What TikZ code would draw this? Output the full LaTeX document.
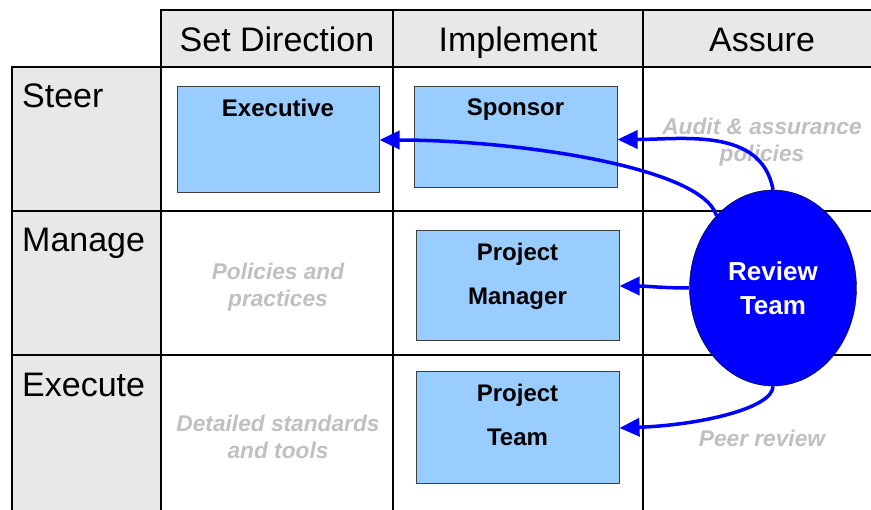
\documentclass[tikz,border=0pt]{standalone}
\usepackage{fontspec}
\setmainfont{Liberation Sans}
\usetikzlibrary{arrows.meta}
\usetikzlibrary{positioning}
\usetikzlibrary{shapes.geometric}
\definecolor{cell grey}{RGB}{232,232,232}
\definecolor{role blue}{RGB}{153,204,255}
\definecolor{review blue}{RGB}{0,0,255}
\definecolor{note grey}{RGB}{192,192,192}

\begin{document}
\begin{tikzpicture}[x=1pt, y=1pt,
					head cell/.style={draw, line width=2pt, fill=cell grey, minimum height=57pt, text height=27pt, text depth=0pt, font=\fontsize{34}{40}\selectfont},
					row label/.style={anchor=base west, inner sep=0pt, font=\fontsize{34}{40}\selectfont},
					grid line/.style={line width=2pt},
					role box/.style={draw=black!75, line width=1pt, fill=role blue},
					role label/.style={anchor=north, align=center, inner sep=0pt, yshift=-12.5pt, font=\bfseries\fontsize{24}{44}\selectfont},
					note/.style={align=center, text=note grey, font=\bfseries\itshape\fontsize{22.7}{27.5}\selectfont},
					review arrow/.style={draw=review blue, line width=3.5pt, -{Triangle[length=20pt,width=18pt]}},
				]
					\useasboundingbox (0,0) rectangle (871,-510);

					% column heads
					\node[head cell, minimum width=232pt] (setdir) at (277,-38.5) {Set Direction};
					\node[head cell, minimum width=250pt] (implement) at (518,-38.5) {Implement};
					\node[head cell, minimum width=238pt] (assure) at (762,-38.5) {Assure};

					% row heads
					\filldraw[grid line, fill=cell grey] (12,-67) rectangle (161,-211);
					\filldraw[grid line, fill=cell grey] (12,-211) rectangle (161,-355);
					\filldraw[grid line, fill=cell grey] (12,-355) rectangle (161,-525);
					\node[row label] (steer) at (22,-108) {Steer};
					\node[row label] (manage) at (22,-252) {Manage};
					\node[row label] (execute) at (22,-397) {Execute};

					% body grid
					\draw[grid line] (393,-67) -- (393,-525);
					\draw[grid line] (643,-67) -- (643,-525);
					\draw[grid line] (161,-211) -- (885,-211);
					\draw[grid line] (161,-355) -- (885,-355);

					% notes in the empty cells
					\node[note] (audit) at (762,-142) {Audit \& assurance\\policies};
					\node[note] (policies) at (278,-287) {Policies and\\practices};
					\node[note] (standards) at (278,-437) {Detailed standards\\and tools};
					\node[note] (peer) at (762,-438) {Peer review};

					% roles
					\node[role box, minimum width=202pt, minimum height=106pt, label={[role label]north:Executive}] (exec) at (278,-140) {};
					\node[role box, minimum width=203pt, minimum height=101pt, label={[role label]north:Sponsor}] (sponsor) at (515.5,-137.5) {};
					\node[role box, minimum width=203pt, minimum height=110pt, label={[role label]north:Project\\Manager}] (pm) at (517.5,-286) {};
					\node[role box, minimum width=203pt, minimum height=112pt, label={[role label]north:Project\\Team}] (team) at (517.5,-428) {};

					\node[ellipse, draw, fill=review blue, text=white, align=center, minimum width=167pt, minimum height=196pt, font=\bfseries\fontsize{26}{33}\selectfont] (review) at (773,-288) {Review\\[1pt]Team};

					\draw[review arrow] (review.north) to[out=100, in=0] ([yshift=-2pt]sponsor.east);
					\draw[review arrow] (review.128) .. controls +(-15,50) and +(130,0) .. (exec.east);
					\draw[review arrow] (review.west) to[out=180, in=0] (pm.east);
					\draw[review arrow] (review.south) .. controls +(0,-22) and +(81,3) .. (team.east);
				\end{tikzpicture}
\end{document}
